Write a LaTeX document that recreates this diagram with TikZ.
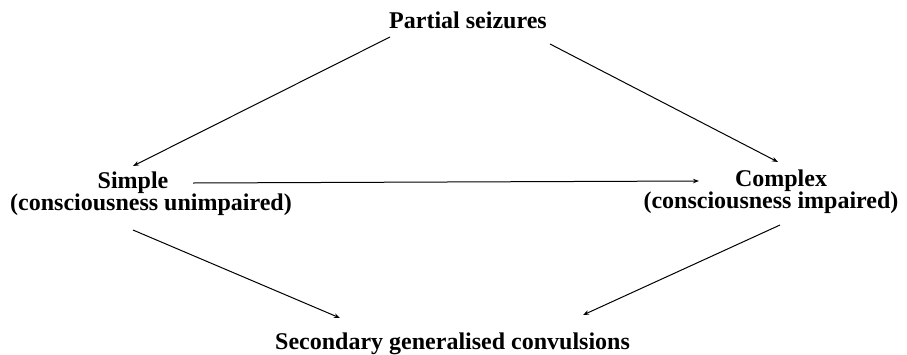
\documentclass[tikz,border=0pt]{standalone}
\usepackage{fontspec}
\setmainfont{Liberation Serif}
\usetikzlibrary{arrows.meta}
\begin{document}
\begin{tikzpicture}[x=1pt,y=-1pt,
  lbl/.style={font=\fontsize{24}{22}\selectfont\bfseries, inner sep=0pt, anchor=base, align=center},
  conn/.style={line width=1pt, -{Stealth[length=6pt,width=4.5pt]}}]
\useasboundingbox (0,0) rectangle (907,354);
\node[lbl] (ps) at (468,28) {Partial seizures};
\node[lbl] (simple) at (151,210) {Simple\hspace*{36pt}\\(consciousness unimpaired)};
\node[lbl] (complex) at (771,208) {\hspace*{20pt}Complex\\(consciousness impaired)};
\node[lbl, anchor=base west] (sec) at (275,349) {Secondary generalised convulsions};
\coordinate (psL) at (390,37);
\coordinate (psR) at (550,44);
\coordinate (simT) at (133,166);
\coordinate (comT) at (778,162);
\coordinate (simR) at (193,183);
\coordinate (comL) at (699,181);
\coordinate (simB) at (133,230);
\coordinate (comB) at (780,225);
\coordinate (secL) at (340,318);
\coordinate (secR) at (583,315);
\draw[conn] (psL) -- (simT);
\draw[conn] (psR) -- (comT);
\draw[conn] (simR) -- (comL);
\draw[conn] (simB) -- (secL);
\draw[conn] (comB) -- (secR);
\end{tikzpicture}
\end{document}
